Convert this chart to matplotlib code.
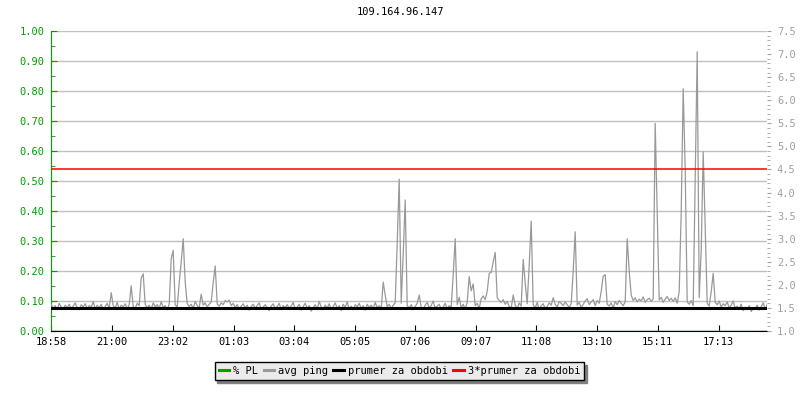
import matplotlib
matplotlib.use("Agg")
import matplotlib.pyplot as plt
from matplotlib.ticker import MultipleLocator
from matplotlib.lines import Line2D

# avg ping in ms, one sample every 4 minutes starting at 18:58
ping_ms = [
    1.58, 1.49, 1.55, 1.46, 1.60, 1.52, 1.47, 1.56, 1.50, 1.58, 1.48, 1.54, 1.61, 1.50, 1.46, 1.57, 1.52, 1.59, 1.49, 1.55,
    1.51, 1.64, 1.48, 1.56, 1.50, 1.58, 1.47, 1.53, 1.60, 1.49, 1.83, 1.55, 1.50, 1.62, 1.47, 1.56, 1.52, 1.59, 1.48, 1.57,
    1.98, 1.53, 1.49, 1.60, 1.55, 2.15, 2.24, 1.58, 1.50, 1.56, 1.47, 1.61, 1.52, 1.57, 1.49, 1.63, 1.51, 1.55, 1.46, 1.58,
    2.56, 2.75, 1.57, 1.52, 2.04, 2.50, 3.00, 2.06, 1.60, 1.53, 1.58, 1.49, 1.64, 1.55, 1.50, 1.80, 1.56, 1.61, 1.52, 1.58,
    1.63, 2.05, 2.41, 1.59, 1.54, 1.61, 1.57, 1.66, 1.63, 1.67, 1.55, 1.60, 1.51, 1.57, 1.48, 1.54, 1.59, 1.50, 1.56, 1.45,
    1.53, 1.58, 1.49, 1.55, 1.61, 1.47, 1.52, 1.57, 1.50, 1.44, 1.54, 1.59, 1.48, 1.53, 1.60, 1.46, 1.55, 1.51, 1.57, 1.49,
    1.54, 1.62, 1.47, 1.52, 1.58, 1.45, 1.53, 1.60, 1.49, 1.55, 1.43, 1.51, 1.57, 1.48, 1.64, 1.52, 1.46, 1.56, 1.50, 1.59,
    1.47, 1.53, 1.61, 1.49, 1.55, 1.44, 1.58, 1.51, 1.63, 1.48, 1.54, 1.46, 1.57, 1.52, 1.60, 1.49, 1.55, 1.45, 1.58, 1.51,
    1.56, 1.48, 1.62, 1.50, 1.55, 1.47, 2.06, 1.78, 1.53, 1.58, 1.49, 1.56, 1.61, 2.90, 4.29, 1.60, 2.66, 3.84, 1.55, 1.50,
    1.57, 1.48, 1.53, 1.60, 1.78, 1.52, 1.47, 1.56, 1.62, 1.50, 1.55, 1.65, 1.49, 1.54, 1.58, 1.46, 1.52, 1.60, 1.48, 1.55,
    1.51, 2.22, 3.00, 1.57, 1.73, 1.50, 1.58, 1.47, 1.62, 2.18, 1.87, 2.02, 1.55, 1.60, 1.49, 1.70, 1.76, 1.68, 1.86, 2.25,
    2.27, 2.50, 2.70, 1.72, 1.66, 1.62, 1.68, 1.58, 1.64, 1.53, 1.50, 1.78, 1.56, 1.48, 1.61, 1.54, 2.55, 2.04, 1.59, 2.43,
    3.38, 1.57, 1.50, 1.62, 1.46, 1.55, 1.59, 1.48, 1.53, 1.61, 1.56, 1.72, 1.58, 1.52, 1.64, 1.60, 1.55, 1.63, 1.57, 1.51,
    1.59, 2.30, 3.15, 1.56, 1.62, 1.50, 1.58, 1.65, 1.70, 1.57, 1.63, 1.68, 1.55, 1.66, 1.60, 1.86, 2.19, 2.22, 1.58, 1.54,
    1.61, 1.49, 1.64, 1.57, 1.66, 1.60, 1.55, 1.63, 3.00, 2.30, 1.78, 1.66, 1.72, 1.63, 1.69, 1.65, 1.74, 1.62, 1.68, 1.71,
    1.64, 1.70, 5.50, 3.58, 1.67, 1.73, 1.62, 1.69, 1.75, 1.66, 1.71, 1.64, 1.72, 1.60, 1.85, 3.58, 6.25, 4.49, 1.63, 1.58,
    1.66, 1.55, 4.27, 7.05, 1.72, 2.74, 4.88, 3.21, 1.60, 1.54, 1.85, 2.25, 1.62, 1.57, 1.65, 1.52, 1.59, 1.55, 1.63, 1.50,
    1.56, 1.65, 1.49, 1.54, 1.47, 1.58, 1.44, 1.52, 1.46, 1.55, 1.42, 1.50, 1.48, 1.56, 1.45, 1.53, 1.61, 1.47, 1.58, 1.52,
]
sample_minutes = 4
pl_percent = [0.0] * len(ping_ms)   # no packet loss the whole day
prumer = 1.5                        # average ping for the period (ms)

start_label = "18:58"
tick_labels = ["18:58", "21:00", "23:02", "01:03", "03:04", "05:05",
               "07:06", "09:07", "11:08", "13:10", "15:11", "17:13"]
title = "109.164.96.147"

GREEN = "#00a000"
GREY = "#999999"
FONT = "DejaVu Sans Mono"
FS = 7.5


def to_min(label):
    h, m = label.split(":")
    return int(h) * 60 + int(m)


t = [i * sample_minutes for i in range(len(ping_ms))]
start = to_min(start_label)
tick_pos = [(to_min(s) - start) % 1440 for s in tick_labels]

plt.rcParams["font.family"] = FONT
plt.rcParams["font.size"] = FS

fig = plt.figure(figsize=(8, 4), dpi=100)
ax = fig.add_axes([0.064, 0.1725, 0.895, 0.75])
ax2 = ax.twinx()

# left axis: packet loss
ax.set_ylim(0, 1)
ax.set_xlim(0, 1432)
ax.yaxis.set_major_locator(MultipleLocator(0.1))
ax.yaxis.set_minor_locator(MultipleLocator(0.05))
ax.yaxis.set_major_formatter(matplotlib.ticker.FormatStrFormatter("%.2f"))
ax.grid(axis="y", color="#c0c0c0", linewidth=1.0)
ax.set_axisbelow(True)
ax.plot(t, pl_percent, color=GREEN, linewidth=1.0, zorder=1)

ax.spines["top"].set_visible(False)
ax.spines["right"].set_visible(False)
ax.spines["left"].set_color(GREEN)
ax.spines["bottom"].set_color("black")
ax.spines["bottom"].set_zorder(5)
ax.tick_params(axis="y", which="both", direction="in", colors=GREEN, pad=5)
ax.tick_params(axis="y", which="major", length=4)
ax.tick_params(axis="y", which="minor", length=3)
ax.set_xticks(tick_pos)
ax.set_xticklabels(tick_labels)
ax.tick_params(axis="x", direction="in", length=4, color="black", pad=4)

# right axis: ping in ms
ax2.set_ylim(1.0, 7.5)
ax2.yaxis.set_major_locator(MultipleLocator(0.5))
ax2.yaxis.set_minor_locator(MultipleLocator(0.1))
ax2.yaxis.set_major_formatter(matplotlib.ticker.FormatStrFormatter("%.1f"))
for s in ax2.spines.values():
    s.set_visible(False)
ax2.tick_params(axis="y", which="both", direction="out", colors="#a0a0a0", pad=4)
ax2.tick_params(axis="y", which="major", length=3)
ax2.tick_params(axis="y", which="minor", length=2)

ax2.plot(t, ping_ms, color=GREY, linewidth=0.9)
ax2.axhline(prumer, color="black", linewidth=2.2)
ax2.axhline(3 * prumer, color="red", linewidth=1.1)

fig.text(0.5, 1 - 12 / 400, title, ha="center", va="center", fontsize=FS)

handles = [
    Line2D([], [], color=GREEN, linewidth=2.2),
    Line2D([], [], color=GREY, linewidth=2.2),
    Line2D([], [], color="black", linewidth=2.2),
    Line2D([], [], color="red", linewidth=2.2),
]
names = ["% PL", "avg ping", "prumer za obdobi", "3*prumer za obdobi"]
leg = fig.legend(handles, names, loc="center", bbox_to_anchor=(0.4995, 1 - 371 / 400),
                 ncol=4, fontsize=FS, handlelength=1.0, handletextpad=0.4,
                 columnspacing=0.5, borderpad=0.4, fancybox=False,
                 shadow={"color": "#808080", "alpha": 1.0}, framealpha=1.0,
                 facecolor="#ebebeb", edgecolor="black")
leg.get_frame().set_linewidth(1.0)

fig.savefig("out.png", dpi=100)
plt.close(fig)
